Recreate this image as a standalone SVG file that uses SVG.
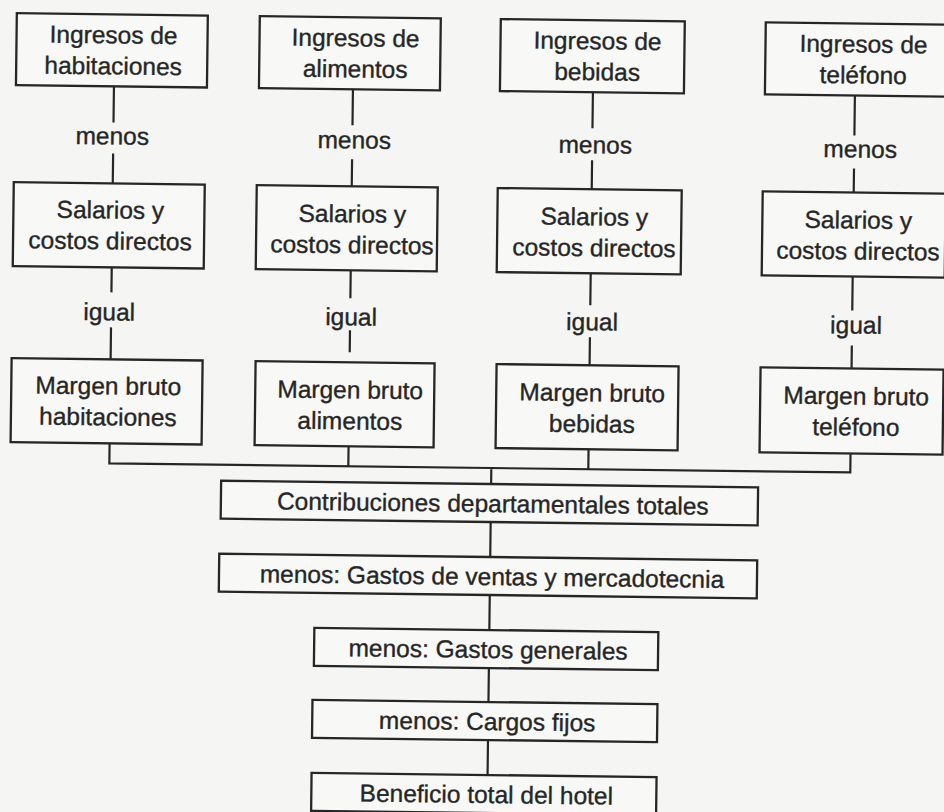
<svg xmlns="http://www.w3.org/2000/svg" width="944" height="812" viewBox="0 0 944 812">
<style>
.bg{fill:#f5f5f4}
.box{fill:#f8f8f7;stroke:#262626;stroke-width:2.3}
.t{font-family:"Liberation Sans",Arial,Helvetica,sans-serif;font-size:24.5px;fill:#262626;stroke:#262626;stroke-width:0.35;text-anchor:middle}
.c{fill:none;stroke:#262626;stroke-width:2.2}
</style>
<rect class="bg" x="0" y="0" width="944" height="812"/>
<g transform="rotate(0.7)">
<g id="connectors">
<path class="c" d="M115,85V121M115,152V182M115,266V291M115,326V358"/>
<path class="c" d="M354,85V121M354,155V182M354,266V294M354,326V348"/>
<path class="c" d="M594,85V121M594,153V182M594,266V298M594,330V358"/>
<path class="c" d="M856,85V125M856,158V182M856,266V300M856,335V358"/>
<path class="c" d="M115,442V462H856V442M354,442V462M594,442V462M497,462V478"/>
<path class="c" d="M497,516V551M497,589V624M497,662V696M497,734V769"/>
</g>
<g id="lbl-menos-1"><text class="t" x="114" y="143">menos</text></g>
<g id="lbl-menos-2"><text class="t" x="356" y="144">menos</text></g>
<g id="lbl-menos-3"><text class="t" x="597" y="146">menos</text></g>
<g id="lbl-menos-4"><text class="t" x="862" y="147">menos</text></g>
<g id="lbl-igual-1"><text class="t" x="113" y="319">igual</text></g>
<g id="lbl-igual-2"><text class="t" x="355" y="321">igual</text></g>
<g id="lbl-igual-3"><text class="t" x="596" y="323">igual</text></g>
<g id="lbl-igual-4"><text class="t" x="860" y="323">igual</text></g>

<g id="ingresos-habitaciones"><rect class="box" x="17" y="13" width="191" height="72"/><text class="t" x="114" y="42">Ingresos de</text><text class="t" x="114" y="73">habitaciones</text></g>
<g id="ingresos-alimentos"><rect class="box" x="260" y="13" width="181" height="72"/><text class="t" x="356" y="42">Ingresos de</text><text class="t" x="356" y="73">alimentos</text></g>
<g id="ingresos-bebidas"><rect class="box" x="501" y="13" width="184" height="72"/><text class="t" x="598" y="42">Ingresos de</text><text class="t" x="598" y="73">bebidas</text></g>
<g id="ingresos-telefono"><rect class="box" x="766" y="13" width="182" height="72"/><text class="t" x="864" y="42">Ingresos de</text><text class="t" x="864" y="73">teléfono</text></g>

<g id="salarios-1"><rect class="box" x="16" y="182" width="191" height="84"/><text class="t" x="113" y="217">Salarios y</text><text class="t" x="113" y="248">costos directos</text></g>
<g id="salarios-2"><rect class="box" x="259" y="182" width="181" height="84"/><text class="t" x="355" y="218">Salarios y</text><text class="t" x="355" y="249">costos directos</text></g>
<g id="salarios-3"><rect class="box" x="500" y="182" width="184" height="84"/><text class="t" x="597" y="218">Salarios y</text><text class="t" x="597" y="249">costos directos</text></g>
<g id="salarios-4"><rect class="box" x="765" y="182" width="183" height="84"/><text class="t" x="861" y="218">Salarios y</text><text class="t" x="861" y="249">costos directos</text></g>

<g id="margen-habitaciones"><rect class="box" x="16" y="358" width="191" height="84"/><text class="t" x="113" y="393">Margen bruto</text><text class="t" x="113" y="424">habitaciones</text></g>
<g id="margen-alimentos"><rect class="box" x="260" y="358" width="179" height="84"/><text class="t" x="355" y="394">Margen bruto</text><text class="t" x="355" y="425">alimentos</text></g>
<g id="margen-bebidas"><rect class="box" x="501" y="358" width="182" height="84"/><text class="t" x="597" y="394">Margen bruto</text><text class="t" x="597" y="425">bebidas</text></g>
<g id="margen-telefono"><rect class="box" x="765" y="358" width="183" height="85"/><text class="t" x="861" y="394">Margen bruto</text><text class="t" x="861" y="425">teléfono</text></g>

<g id="contribuciones"><rect class="box" x="227" y="478" width="537" height="38"/><text class="t" x="499" y="506">Contribuciones departamentales totales</text></g>
<g id="gastos-ventas"><rect class="box" x="226" y="551" width="538" height="38"/><text class="t" x="499" y="579">menos: Gastos de ventas y mercadotecnia</text></g>
<g id="gastos-generales"><rect class="box" x="322" y="624" width="344" height="38"/><text class="t" x="496" y="652">menos: Gastos generales</text></g>
<g id="cargos-fijos"><rect class="box" x="321" y="696" width="345" height="38"/><text class="t" x="496" y="724">menos: Cargos fijos</text></g>
<g id="beneficio"><rect class="box" x="321" y="769" width="345" height="38"/><text class="t" x="496" y="797">Beneficio total del hotel</text></g>
</g>
</svg>
